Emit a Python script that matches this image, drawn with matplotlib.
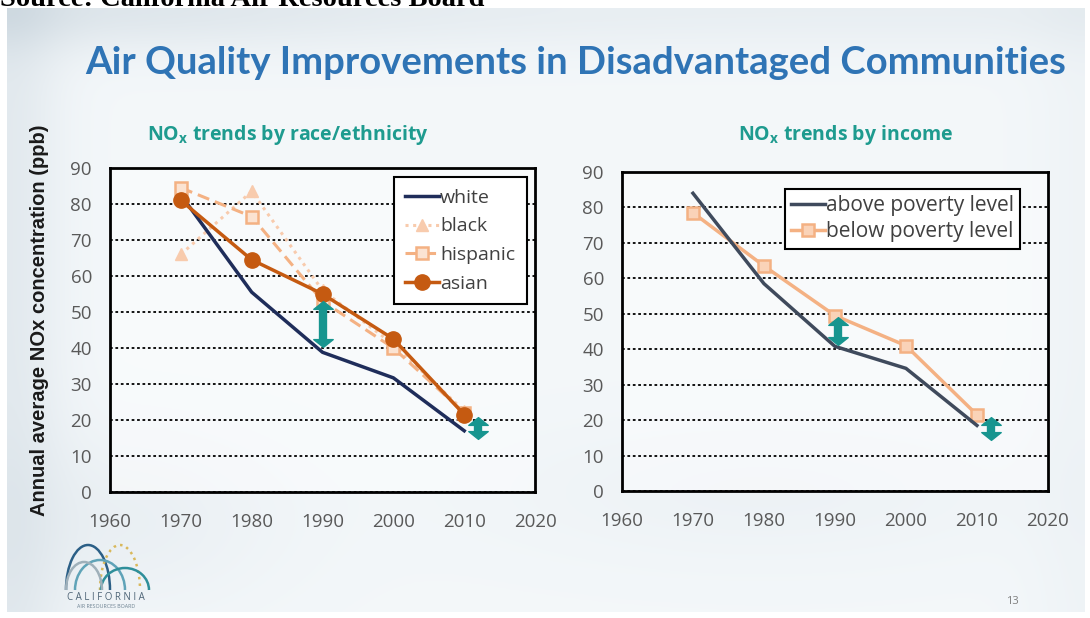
import numpy as np
import matplotlib
matplotlib.use('Agg')
import matplotlib.pyplot as plt
from matplotlib.patches import Arc
from matplotlib.path import Path

# data
years = [1970, 1980, 1990, 2000, 2010]
white = [82.5, 55.5, 38.8, 31.7, 17]
black = [66, 83.5, 56, 41, 22.5]
hispanic = [84.5, 76.5, 53, 40, 22]
asian = [81, 64.5, 55, 42.5, 21.5]

above_poverty = [84, 58.5, 40.8, 34.6, 18.5]
below_poverty = [78.5, 63.5, 49.5, 41, 21.5]

# teal gap arrows (year, low, high) - head centres
race_gap_x = [1990, 2012]
race_gap_lo = [41.5, 15.7]
race_gap_hi = [51.8, 19.8]
income_gap_x = [1990.5, 2012]
income_gap_lo = [42.3, 15.4]
income_gap_hi = [48.1, 19.8]

xticks = [1960, 1970, 1980, 1990, 2000, 2010, 2020]
yticks = [0, 10, 20, 30, 40, 50, 60, 70, 80, 90]

NAVY = '#1f2d5a'
SLATE = '#3f4a5c'
PEACH = '#f4b183'
LIGHT_PEACH = '#f8cbad'
RUST = '#c55a11'
TEAL = '#17958f'
TITLE_BLUE = '#2f74b5'
TICK_GRAY = '#595959'

plt.rcParams['mathtext.fontset'] = 'custom'
plt.rcParams['mathtext.bf'] = 'Open Sans:bold'
plt.rcParams['mathtext.rm'] = 'Open Sans'

fig = plt.figure(figsize=(10.9, 6.18), dpi=100)

# slide background
bg = fig.add_axes([0, 0, 1, 1])
bg.set_xlim(0, 1090)
bg.set_ylim(618, 0)
bg.axis('off')
yy, xx = np.mgrid[0:300, 0:540]
xn = xx / 540.0
yn = yy / 300.0
shade = 0.28 * np.exp(-(yn / 0.07) ** 2) * (0.5 + 0.5 * np.exp(-((xn - 0.05) / 0.3) ** 2))
shade += 0.22 * np.exp(-(xn / 0.05) ** 2)
shade += 0.12 * np.exp(-((yn - 0.85) / 0.15) ** 2) * np.exp(-((xn - 0.1) / 0.15) ** 2)
shade += 0.08 * np.exp(-((yn - 0.8) / 0.12) ** 2) * np.exp(-((xn - 0.7) / 0.25) ** 2)
shade += 0.06 * np.exp(-((xn - 1.0) / 0.05) ** 2)
base = np.array([0.955, 0.97, 0.98])
tint = np.array([0.66, 0.73, 0.78])
img = base[None, None, :] * (1 - shade[..., None]) + tint[None, None, :] * shade[..., None]
bg.imshow(np.clip(img, 0, 1), extent=[7, 1085, 612, 8], aspect='auto', zorder=0)

fig.text(0.0, 1 - 6.5 / 618, 'Source: California Air Resources Board', family='Liberation Serif',
         fontweight='bold', fontsize=20.5, va='baseline', ha='left', color='black')

fig.text(0.528, 0.898, 'Air Quality Improvements in Disadvantaged Communities',
         family='Lato', fontweight='bold', fontsize=27.5, color=TITLE_BLUE,
         ha='center', va='center')

fig.text(0.264, 0.781, r'NO$_\mathbf{x}$ trends by race/ethnicity', family='Open Sans',
         fontweight='bold', fontsize=14, color='#1e9b8f', ha='center', va='center')
fig.text(0.776, 0.781, r'NO$_\mathbf{x}$ trends by income', family='Open Sans',
         fontweight='bold', fontsize=14, color='#1e9b8f', ha='center', va='center')

fig.text(0.036, 0.482, 'Annual average NOx concentration (ppb)', family='Liberation Sans',
         fontweight='bold', fontsize=14.5, rotation=90, ha='center', va='center', color='#1a1a1a')

# flat arrow heads
up_head = Path([(-1, -0.4), (1, -0.4), (0, 0.4), (-1, -0.4)],
               [Path.MOVETO, Path.LINETO, Path.LINETO, Path.CLOSEPOLY])
down_head = Path([(-1, 0.4), (1, 0.4), (0, -0.4), (-1, 0.4)],
                 [Path.MOVETO, Path.LINETO, Path.LINETO, Path.CLOSEPOLY])


def style_axes(ax):
    ax.set_facecolor((1, 1, 1, 0.45))
    ax.set_xlim(1960, 2020)
    ax.set_ylim(0, 90)
    ax.set_xticks(xticks)
    ax.set_yticks(yticks)
    ax.tick_params(length=0, labelsize=13.5, colors=TICK_GRAY)
    ax.tick_params(axis='x', pad=15)
    ax.tick_params(axis='y', pad=13)
    for lab in ax.get_xticklabels() + ax.get_yticklabels():
        lab.set_family('Open Sans')
    ax.yaxis.grid(True, color='black', linestyle=(0, (1.5, 1.5)), linewidth=1.3)
    ax.set_axisbelow(True)
    for sp in ax.spines.values():
        sp.set_linewidth(2)
        sp.set_color('black')


def gap_arrows(ax, xs, lo, hi):
    for x, a, b in zip(xs, lo, hi):
        ax.plot([x, x], [a, b], color=TEAL, lw=6, solid_capstyle='butt', zorder=6)
        ax.plot([x], [b], marker=up_head, markersize=14, color=TEAL, zorder=6, lw=0)
        ax.plot([x], [a], marker=down_head, markersize=14, color=TEAL, zorder=6, lw=0)


# left panel: race / ethnicity
ax1 = fig.add_axes([0.1009, 0.2039, 0.390, 0.5243])
style_axes(ax1)
ax1.plot(years, black, color=LIGHT_PEACH, linestyle=(0, (1, 1.5)), lw=2.2,
         marker='^', markersize=9, markerfacecolor=LIGHT_PEACH, markeredgecolor=LIGHT_PEACH,
         label='black', zorder=3)
ax1.plot(years, hispanic, color=PEACH, linestyle=(0, (4, 2)), lw=2.2,
         marker='s', markersize=9, markerfacecolor='#fbe3d2', markeredgecolor=PEACH,
         markeredgewidth=1.8, label='hispanic', zorder=3)
ax1.plot(years, white, color=NAVY, lw=2.5, label='white', zorder=4)
ax1.plot(years, asian, color=RUST, lw=2.5, marker='o', markersize=11,
         markerfacecolor=RUST, markeredgecolor=RUST, label='asian', zorder=5)
gap_arrows(ax1, race_gap_x, race_gap_lo, race_gap_hi)
h, l = ax1.get_legend_handles_labels()
order = [2, 0, 1, 3]
leg1 = ax1.legend([h[i] for i in order], [l[i] for i in order], loc='upper right',
                  bbox_to_anchor=(0.981, 0.972), borderaxespad=0, fancybox=False, framealpha=1,
                  edgecolor='black', handlelength=1.75, handletextpad=0.05,
                  borderpad=0.6, labelspacing=0.55, prop={'family': 'Open Sans', 'size': 14})
leg1.get_frame().set_linewidth(1.5)
for t in leg1.get_texts():
    t.set_color('#404040')

# right panel: income
ax2 = fig.add_axes([0.5706, 0.2055, 0.3908, 0.5162])
style_axes(ax2)
ax2.plot(years, above_poverty, color=SLATE, lw=2.5, label='above poverty level', zorder=4)
ax2.plot(years, below_poverty, color=PEACH, lw=2.5, marker='s', markersize=9,
         markerfacecolor='#fad3b8', markeredgecolor=PEACH, markeredgewidth=1.8,
         label='below poverty level', zorder=3)
gap_arrows(ax2, income_gap_x, income_gap_lo, income_gap_hi)
leg2 = ax2.legend(loc='upper right', bbox_to_anchor=(0.934, 0.947), borderaxespad=0,
                  fancybox=False, framealpha=1, edgecolor='black', handlelength=1.6,
                  handletextpad=0.05, borderpad=0.3, labelspacing=0.25,
                  prop={'family': 'Open Sans', 'size': 15})
leg2.get_frame().set_linewidth(1.5)
for t in leg2.get_texts():
    t.set_color('#404040')

# CARB logo (rough)
for cx, cy, w, hgt, col, ls in [(88, 590, 44, 90, '#2b5f86', '-'),
                                 (120, 590, 40, 90, '#d9b85a', ':'),
                                 (100, 590, 50, 60, '#5fa3b8', '-'),
                                 (125, 590, 48, 44, '#2e8f9a', '-'),
                                 (84, 590, 36, 56, '#9fb0ba', '-')]:
    bg.add_patch(Arc((cx, cy), w, hgt, theta1=180, theta2=360, color=col, lw=1.8, ls=ls))
bg.text(106, 598, 'C A L I F O R N I A', fontsize=7, color='#4f6577', ha='center',
        va='center', family='Open Sans')
bg.text(106, 606, 'AIR RESOURCES BOARD', fontsize=3.8, color='#6a7f8f', ha='center',
        va='center', family='Open Sans')
bg.text(1012, 601, '13', fontsize=8, color='#7f7f7f', ha='center', va='center',
        family='Open Sans')

fig.savefig('out.png', dpi=100)
